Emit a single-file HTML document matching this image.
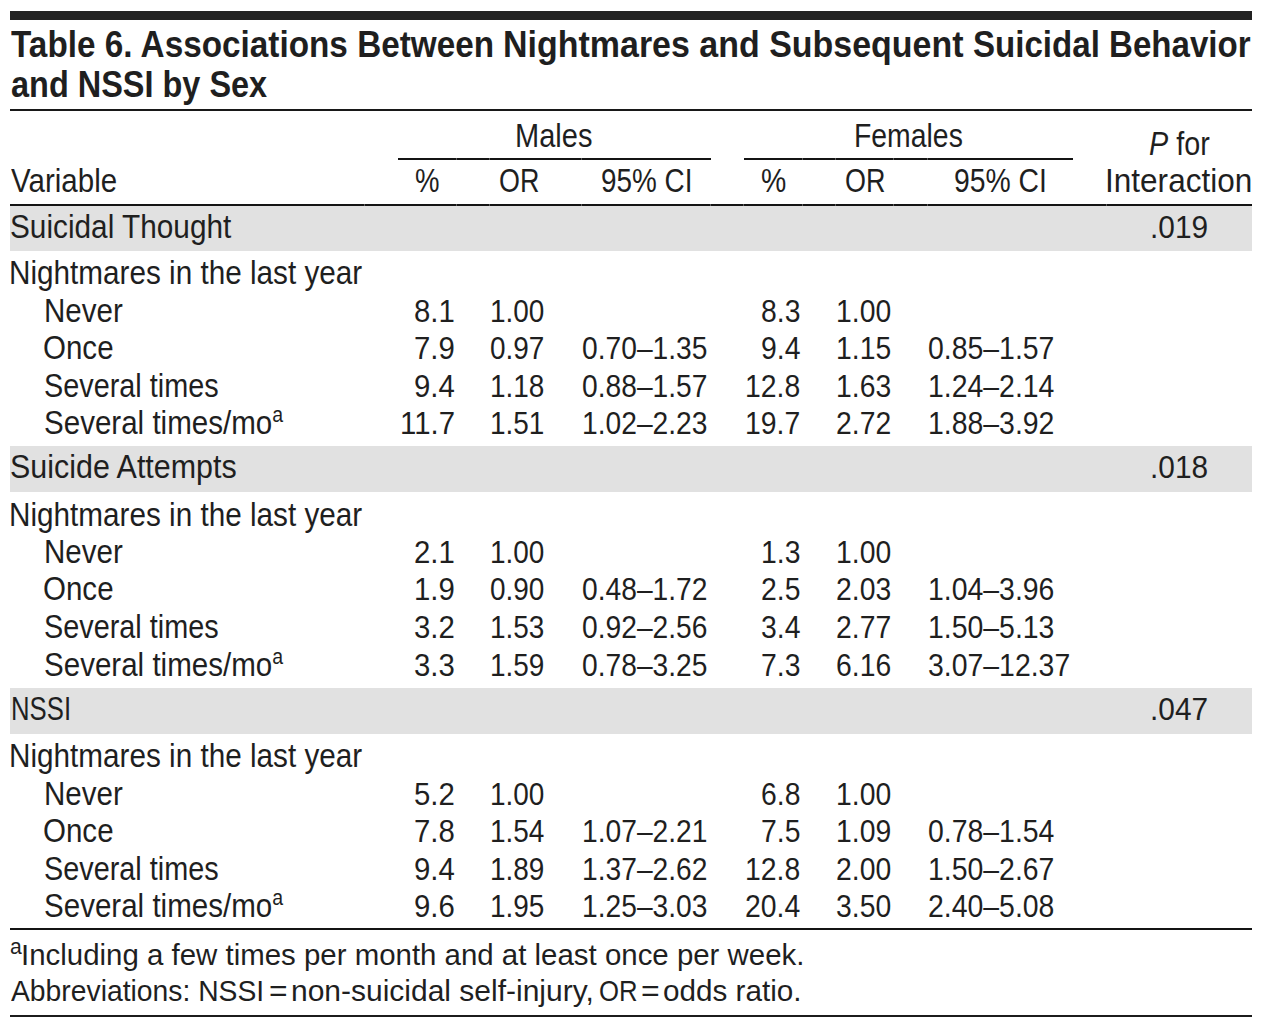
<!DOCTYPE html>
<html><head><meta charset="utf-8"><title>Table 6</title><style>html,body{margin:0;padding:0;background:#ffffff;}body{width:1262px;height:1031px;position:relative;overflow:hidden;font-family:"Liberation Sans",sans-serif;color:#1f1f1f}.t{position:absolute;white-space:nowrap;line-height:1;transform-origin:0 0;}.title{font-weight:bold;font-size:37.2px}.body{font-size:32.5px}.foot{font-size:29.8px}.num{font-size:31.2px}.r{position:absolute}sup{vertical-align:0;position:relative;line-height:0}.body sup{font-size:0.66em;top:-0.56em}.foot sup{font-size:0.72em;top:-0.49em;margin-right:-0.8px}</style></head><body>
<div class="r" style="left:10.00px;top:11.00px;width:1242.00px;height:8.50px;background:#222222"></div>
<div class="r" style="left:10.00px;top:109.00px;width:1242.00px;height:2.00px;background:#181818"></div>
<div class="r" style="left:398.00px;top:158.00px;width:312.50px;height:2.00px;background:#141414"></div>
<div class="r" style="left:744.00px;top:158.00px;width:329.00px;height:2.00px;background:#141414"></div>
<div class="r" style="left:10.00px;top:204.00px;width:1242.00px;height:2.00px;background:#141414"></div>
<div class="r" style="left:10.00px;top:206.00px;width:1242.00px;height:45.00px;background:#e1e1e1"></div>
<div class="r" style="left:10.00px;top:446.00px;width:1242.00px;height:46.00px;background:#e1e1e1"></div>
<div class="r" style="left:10.00px;top:688.00px;width:1242.00px;height:46.00px;background:#e1e1e1"></div>
<div class="r" style="left:10.00px;top:928.00px;width:1242.00px;height:2.00px;background:#141414"></div>
<div class="r" style="left:10.00px;top:1015.00px;width:1242.00px;height:2.00px;background:#1c1c1c"></div>
<div class="r" style="left:364.00px;top:204.00px;width:1.00px;height:2.00px;background:#5c5c5c"></div>
<div class="r" style="left:456.00px;top:204.00px;width:1.00px;height:2.00px;background:#5c5c5c"></div>
<div class="r" style="left:489.00px;top:204.00px;width:1.00px;height:2.00px;background:#5c5c5c"></div>
<div class="r" style="left:581.00px;top:204.00px;width:1.00px;height:2.00px;background:#5c5c5c"></div>
<div class="r" style="left:710.00px;top:204.00px;width:1.00px;height:2.00px;background:#5c5c5c"></div>
<div class="r" style="left:743.00px;top:204.00px;width:1.00px;height:2.00px;background:#5c5c5c"></div>
<div class="r" style="left:802.00px;top:204.00px;width:1.00px;height:2.00px;background:#5c5c5c"></div>
<div class="r" style="left:835.00px;top:204.00px;width:1.00px;height:2.00px;background:#5c5c5c"></div>
<div class="r" style="left:893.00px;top:204.00px;width:1.00px;height:2.00px;background:#5c5c5c"></div>
<div class="r" style="left:927.00px;top:204.00px;width:1.00px;height:2.00px;background:#5c5c5c"></div>
<div class="r" style="left:1106.00px;top:204.00px;width:1.00px;height:2.00px;background:#5c5c5c"></div>
<div class="r" style="left:456.00px;top:158.00px;width:1.00px;height:2.00px;background:#5c5c5c"></div>
<div class="r" style="left:489.00px;top:158.00px;width:1.00px;height:2.00px;background:#5c5c5c"></div>
<div class="r" style="left:581.00px;top:158.00px;width:1.00px;height:2.00px;background:#5c5c5c"></div>
<div class="r" style="left:802.00px;top:158.00px;width:1.00px;height:2.00px;background:#5c5c5c"></div>
<div class="r" style="left:835.00px;top:158.00px;width:1.00px;height:2.00px;background:#5c5c5c"></div>
<div class="r" style="left:893.00px;top:158.00px;width:1.00px;height:2.00px;background:#5c5c5c"></div>
<div class="r" style="left:927.00px;top:158.00px;width:1.00px;height:2.00px;background:#5c5c5c"></div>
<div class="t title" style="left:11.00px;top:26.00px;transform:scaleX(0.8957)">Table 6. Associations Between</div>
<div class="t title" style="left:502.87px;top:26.00px;transform:scaleX(0.9135)">Nightmares and Subsequent</div>
<div class="t title" style="left:972.81px;top:26.00px;transform:scaleX(0.8897)">Suicidal Behavior</div>
<div class="t title" style="left:10.73px;top:65.50px;transform:scaleX(0.8729)">and NSSI by Sex</div>
<div class="t body" style="left:514.72px;top:120.00px;transform:scaleX(0.8928)">Males</div>
<div class="t body" style="left:853.98px;top:120.00px;transform:scaleX(0.8733)">Females</div>
<div class="t body" style="left:1148.61px;top:127.60px;transform:scaleX(0.8851)"><i>P</i> for</div>
<div class="t body" style="left:10.60px;top:164.50px;transform:scaleX(0.9086)">Variable</div>
<div class="t body" style="left:414.95px;top:164.50px;transform:scaleX(0.8481)">%</div>
<div class="t body" style="left:498.75px;top:164.50px;transform:scaleX(0.8267)">OR</div>
<div class="t body" style="left:600.58px;top:164.50px;transform:scaleX(0.8578)">95% CI</div>
<div class="t body" style="left:760.83px;top:164.50px;transform:scaleX(0.8741)">%</div>
<div class="t body" style="left:845.04px;top:164.50px;transform:scaleX(0.8289)">OR</div>
<div class="t body" style="left:953.66px;top:164.50px;transform:scaleX(0.8716)">95% CI</div>
<div class="t body" style="left:1104.89px;top:164.80px;transform:scaleX(0.9707)">Interaction</div>
<div class="t body" style="left:10.17px;top:211.00px;transform:scaleX(0.9163)">Suicidal Thought</div>
<div class="t num" style="left:1149.93px;top:212.00px;transform:scaleX(0.9571)">.019</div>
<div class="t body" style="left:9.26px;top:257.30px;transform:scaleX(0.9136)">Nightmares in the last year</div>
<div class="t body" style="left:43.57px;top:294.70px;transform:scaleX(0.9084)">Never</div>
<div class="t num" style="left:413.77px;top:295.70px;transform:scaleX(0.9418)">8.1</div>
<div class="t num" style="left:490.01px;top:295.70px;transform:scaleX(0.8966)">1.00</div>
<div class="t num" style="left:760.84px;top:295.70px;transform:scaleX(0.9088)">8.3</div>
<div class="t num" style="left:835.68px;top:295.70px;transform:scaleX(0.9086)">1.00</div>
<div class="t body" style="left:43.08px;top:331.90px;transform:scaleX(0.9081)">Once</div>
<div class="t num" style="left:413.77px;top:332.90px;transform:scaleX(0.9418)">7.9</div>
<div class="t num" style="left:490.01px;top:332.90px;transform:scaleX(0.8966)">0.97</div>
<div class="t num" style="left:581.70px;top:332.90px;transform:scaleX(0.9044)">0.70–1.35</div>
<div class="t num" style="left:760.84px;top:332.90px;transform:scaleX(0.9088)">9.4</div>
<div class="t num" style="left:835.68px;top:332.90px;transform:scaleX(0.9086)">1.15</div>
<div class="t num" style="left:927.59px;top:332.90px;transform:scaleX(0.9110)">0.85–1.57</div>
<div class="t body" style="left:43.63px;top:369.50px;transform:scaleX(0.8871)">Several times</div>
<div class="t num" style="left:413.77px;top:370.50px;transform:scaleX(0.9418)">9.4</div>
<div class="t num" style="left:490.01px;top:370.50px;transform:scaleX(0.8966)">1.18</div>
<div class="t num" style="left:581.70px;top:370.50px;transform:scaleX(0.9044)">0.88–1.57</div>
<div class="t num" style="left:745.08px;top:370.50px;transform:scaleX(0.9088)">12.8</div>
<div class="t num" style="left:835.68px;top:370.50px;transform:scaleX(0.9086)">1.63</div>
<div class="t num" style="left:927.59px;top:370.50px;transform:scaleX(0.9110)">1.24–2.14</div>
<div class="t body" style="left:43.58px;top:407.00px;transform:scaleX(0.9092)">Several times/mo<sup>a</sup></div>
<div class="t num" style="left:399.62px;top:408.00px;transform:scaleX(0.9418)">11.7</div>
<div class="t num" style="left:490.01px;top:408.00px;transform:scaleX(0.8966)">1.51</div>
<div class="t num" style="left:581.70px;top:408.00px;transform:scaleX(0.9044)">1.02–2.23</div>
<div class="t num" style="left:745.08px;top:408.00px;transform:scaleX(0.9088)">19.7</div>
<div class="t num" style="left:835.68px;top:408.00px;transform:scaleX(0.9086)">2.72</div>
<div class="t num" style="left:927.59px;top:408.00px;transform:scaleX(0.9110)">1.88–3.92</div>
<div class="t body" style="left:9.63px;top:450.50px;transform:scaleX(0.9364)">Suicide Attempts</div>
<div class="t num" style="left:1149.93px;top:451.50px;transform:scaleX(0.9571)">.018</div>
<div class="t body" style="left:9.26px;top:498.50px;transform:scaleX(0.9136)">Nightmares in the last year</div>
<div class="t body" style="left:43.57px;top:535.90px;transform:scaleX(0.9084)">Never</div>
<div class="t num" style="left:413.77px;top:536.90px;transform:scaleX(0.9418)">2.1</div>
<div class="t num" style="left:490.01px;top:536.90px;transform:scaleX(0.8966)">1.00</div>
<div class="t num" style="left:760.84px;top:536.90px;transform:scaleX(0.9088)">1.3</div>
<div class="t num" style="left:835.68px;top:536.90px;transform:scaleX(0.9086)">1.00</div>
<div class="t body" style="left:43.08px;top:573.30px;transform:scaleX(0.9081)">Once</div>
<div class="t num" style="left:413.77px;top:574.30px;transform:scaleX(0.9418)">1.9</div>
<div class="t num" style="left:490.01px;top:574.30px;transform:scaleX(0.8966)">0.90</div>
<div class="t num" style="left:581.70px;top:574.30px;transform:scaleX(0.9044)">0.48–1.72</div>
<div class="t num" style="left:760.84px;top:574.30px;transform:scaleX(0.9088)">2.5</div>
<div class="t num" style="left:835.68px;top:574.30px;transform:scaleX(0.9086)">2.03</div>
<div class="t num" style="left:927.59px;top:574.30px;transform:scaleX(0.9110)">1.04–3.96</div>
<div class="t body" style="left:43.63px;top:610.50px;transform:scaleX(0.8871)">Several times</div>
<div class="t num" style="left:413.77px;top:611.50px;transform:scaleX(0.9418)">3.2</div>
<div class="t num" style="left:490.01px;top:611.50px;transform:scaleX(0.8966)">1.53</div>
<div class="t num" style="left:581.70px;top:611.50px;transform:scaleX(0.9044)">0.92–2.56</div>
<div class="t num" style="left:760.84px;top:611.50px;transform:scaleX(0.9088)">3.4</div>
<div class="t num" style="left:835.68px;top:611.50px;transform:scaleX(0.9086)">2.77</div>
<div class="t num" style="left:927.59px;top:611.50px;transform:scaleX(0.9110)">1.50–5.13</div>
<div class="t body" style="left:43.58px;top:648.50px;transform:scaleX(0.9092)">Several times/mo<sup>a</sup></div>
<div class="t num" style="left:413.77px;top:649.50px;transform:scaleX(0.9418)">3.3</div>
<div class="t num" style="left:490.01px;top:649.50px;transform:scaleX(0.8966)">1.59</div>
<div class="t num" style="left:581.70px;top:649.50px;transform:scaleX(0.9044)">0.78–3.25</div>
<div class="t num" style="left:760.84px;top:649.50px;transform:scaleX(0.9088)">7.3</div>
<div class="t num" style="left:835.68px;top:649.50px;transform:scaleX(0.9086)">6.16</div>
<div class="t num" style="left:927.59px;top:649.50px;transform:scaleX(0.9110)">3.07–12.37</div>
<div class="t body" style="left:10.53px;top:692.70px;transform:scaleX(0.7914)">NSSI</div>
<div class="t num" style="left:1149.93px;top:693.70px;transform:scaleX(0.9571)">.047</div>
<div class="t body" style="left:9.26px;top:740.00px;transform:scaleX(0.9136)">Nightmares in the last year</div>
<div class="t body" style="left:43.57px;top:777.50px;transform:scaleX(0.9084)">Never</div>
<div class="t num" style="left:413.77px;top:778.50px;transform:scaleX(0.9418)">5.2</div>
<div class="t num" style="left:490.01px;top:778.50px;transform:scaleX(0.8966)">1.00</div>
<div class="t num" style="left:760.84px;top:778.50px;transform:scaleX(0.9088)">6.8</div>
<div class="t num" style="left:835.68px;top:778.50px;transform:scaleX(0.9086)">1.00</div>
<div class="t body" style="left:43.08px;top:815.30px;transform:scaleX(0.9081)">Once</div>
<div class="t num" style="left:413.77px;top:816.30px;transform:scaleX(0.9418)">7.8</div>
<div class="t num" style="left:490.01px;top:816.30px;transform:scaleX(0.8966)">1.54</div>
<div class="t num" style="left:581.70px;top:816.30px;transform:scaleX(0.9044)">1.07–2.21</div>
<div class="t num" style="left:760.84px;top:816.30px;transform:scaleX(0.9088)">7.5</div>
<div class="t num" style="left:835.68px;top:816.30px;transform:scaleX(0.9086)">1.09</div>
<div class="t num" style="left:927.59px;top:816.30px;transform:scaleX(0.9110)">0.78–1.54</div>
<div class="t body" style="left:43.63px;top:852.50px;transform:scaleX(0.8871)">Several times</div>
<div class="t num" style="left:413.77px;top:853.50px;transform:scaleX(0.9418)">9.4</div>
<div class="t num" style="left:490.01px;top:853.50px;transform:scaleX(0.8966)">1.89</div>
<div class="t num" style="left:581.70px;top:853.50px;transform:scaleX(0.9044)">1.37–2.62</div>
<div class="t num" style="left:745.08px;top:853.50px;transform:scaleX(0.9088)">12.8</div>
<div class="t num" style="left:835.68px;top:853.50px;transform:scaleX(0.9086)">2.00</div>
<div class="t num" style="left:927.59px;top:853.50px;transform:scaleX(0.9110)">1.50–2.67</div>
<div class="t body" style="left:43.58px;top:890.30px;transform:scaleX(0.9092)">Several times/mo<sup>a</sup></div>
<div class="t num" style="left:413.77px;top:891.30px;transform:scaleX(0.9418)">9.6</div>
<div class="t num" style="left:490.01px;top:891.30px;transform:scaleX(0.8966)">1.95</div>
<div class="t num" style="left:581.70px;top:891.30px;transform:scaleX(0.9044)">1.25–3.03</div>
<div class="t num" style="left:745.08px;top:891.30px;transform:scaleX(0.9088)">20.4</div>
<div class="t num" style="left:835.68px;top:891.30px;transform:scaleX(0.9086)">3.50</div>
<div class="t num" style="left:927.59px;top:891.30px;transform:scaleX(0.9110)">2.40–5.08</div>
<div class="t foot" style="left:10.01px;top:939.50px;transform:scaleX(0.9875)"><sup>a</sup>Including a few times per month and at least once per week.</div>
<div class="t foot" style="left:11.40px;top:975.50px;transform:scaleX(0.9496)">Abbreviations: NSSI</div>
<div class="t foot" style="left:268.83px;top:975.50px;transform:scaleX(1.0667)">=</div>
<div class="t foot" style="left:291.19px;top:975.50px;transform:scaleX(1.0064)">non-suicidal self-injury,</div>
<div class="t foot" style="left:598.74px;top:975.50px;transform:scaleX(0.8619)">OR</div>
<div class="t foot" style="left:640.73px;top:975.50px;transform:scaleX(1.0733)">=</div>
<div class="t foot" style="left:663.20px;top:975.50px;transform:scaleX(0.9956)">odds ratio.</div>
</body></html>
